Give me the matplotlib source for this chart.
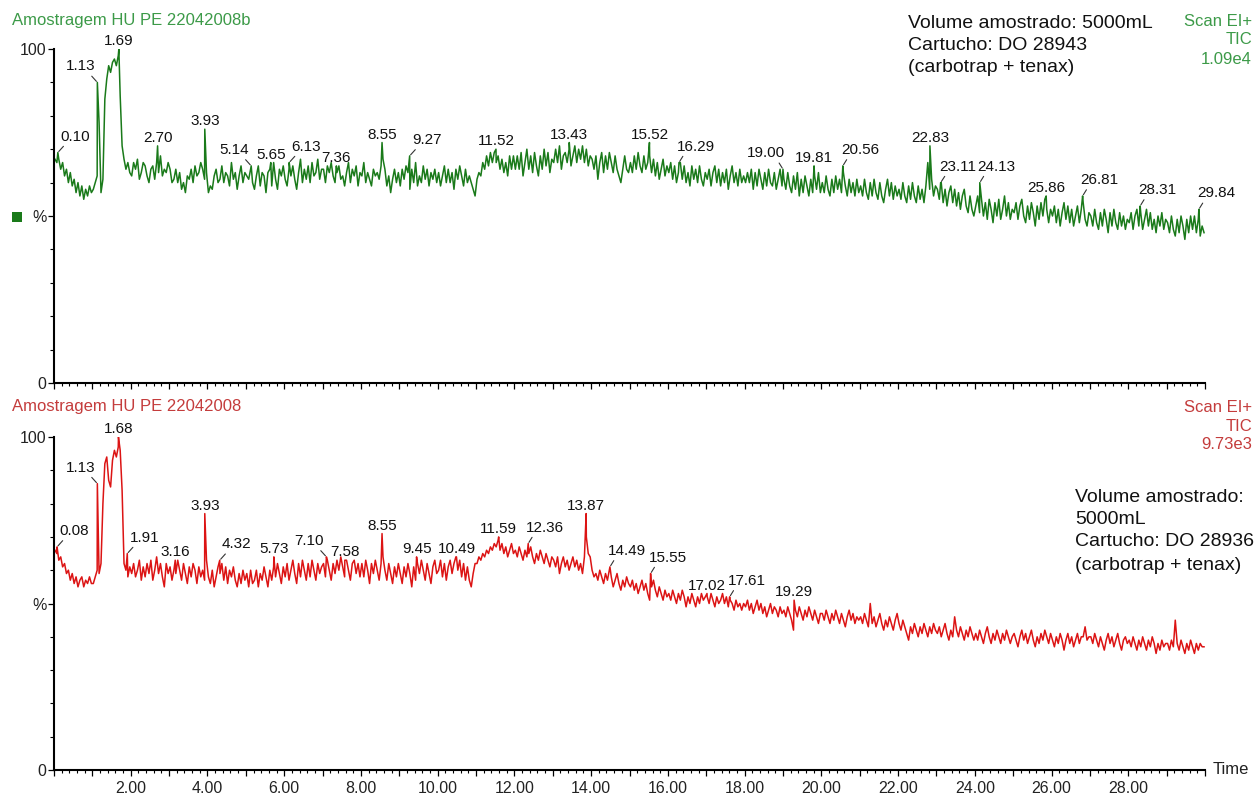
import numpy as np
import matplotlib
matplotlib.use("Agg")
import matplotlib.pyplot as plt
from matplotlib.ticker import FixedLocator, MultipleLocator, FuncFormatter
from matplotlib.patches import Rectangle

plt.rcParams['font.family'] = ['Liberation Sans', 'DejaVu Sans']

# scan grid, minutes (one scan every 0.05 min)
scan_time = np.round(0.025 + 0.05 * np.arange(600), 3)

# TIC, sample 22042008b (% of 1.09e4), one row per minute
top_signal = [
    67, 66, 67, 64, 66, 62, 64, 60, 63, 59, 61, 57, 60, 56, 59, 55, 58, 56, 59, 57,
    58, 60, 62, 78, 57, 61, 85, 91, 95, 93, 96, 97, 95, 98, 86, 71, 67, 64, 66, 63,
    62, 66, 64, 67, 61, 63, 66, 65, 62, 60, 64, 65, 61, 66, 63, 68, 62, 64, 63, 66,
    64, 60, 61, 64, 60, 63, 58, 60, 57, 62, 61, 64, 60, 65, 62, 63, 66, 64, 61, 63,
    57, 59, 58, 62, 64, 60, 61, 65, 60, 63, 62, 59, 66, 61, 63, 58, 62, 65, 60, 63,
    62, 61, 64, 60, 58, 62, 65, 59, 63, 62, 57, 63, 64, 59, 66, 61, 58, 64, 62, 65,
    61, 59, 64, 62, 65, 61, 58, 63, 67, 60, 64, 61, 65, 60, 66, 62, 63, 67, 61, 64,
    64, 60, 65, 63, 66, 62, 60, 63, 65, 61, 62, 59, 63, 66, 60, 64, 62, 65, 59, 63,
    62, 66, 60, 63, 61, 59, 64, 62, 63, 61, 65, 67, 64, 59, 62, 57, 61, 64, 60, 63,
    59, 64, 61, 65, 63, 58, 64, 60, 66, 59, 62, 60, 65, 61, 64, 59, 63, 61, 64, 60,
    63, 59, 62, 65, 60, 64, 60, 63, 58, 64, 61, 65, 62, 59, 64, 60, 62, 60, 58, 56,
    61, 63, 62, 66, 64, 68, 65, 69, 66, 69, 66, 68, 64, 67, 63, 66, 62, 68, 64, 68,
    64, 68, 64, 69, 62, 66, 70, 64, 68, 63, 69, 65, 62, 68, 64, 70, 65, 69, 63, 67,
    66, 70, 66, 71, 64, 68, 69, 66, 70, 65, 68, 71, 66, 70, 67, 71, 66, 70, 65, 68,
    67, 64, 68, 61, 66, 69, 63, 68, 64, 69, 66, 63, 68, 64, 62, 60, 64, 68, 64, 63,
    66, 63, 68, 64, 69, 65, 63, 68, 64, 66, 68, 63, 67, 62, 66, 61, 64, 67, 62, 65,
    63, 66, 61, 65, 60, 63, 66, 61, 65, 60, 63, 59, 65, 61, 64, 60, 65, 61, 59, 63,
    61, 64, 59, 63, 65, 60, 64, 59, 63, 60, 64, 58, 62, 65, 60, 63, 59, 64, 60, 62,
    60, 63, 60, 64, 58, 63, 59, 64, 61, 58, 63, 59, 64, 60, 59, 63, 58, 61, 64, 59,
    61, 58, 63, 59, 57, 62, 58, 63, 56, 61, 57, 62, 59, 56, 61, 57, 62, 58, 63, 57,
    60, 57, 62, 58, 56, 61, 57, 62, 58, 61, 57, 63, 59, 56, 61, 57, 60, 56, 61, 57,
    59, 56, 61, 57, 55, 60, 56, 61, 57, 55, 60, 56, 54, 58, 61, 56, 60, 55, 59, 56,
    58, 55, 60, 56, 54, 59, 55, 60, 56, 54, 59, 55, 58, 54, 59, 66, 58, 61, 56, 59,
    58, 55, 60, 54, 58, 53, 57, 59, 54, 58, 53, 57, 52, 56, 58, 53, 51, 56, 52, 50,
    53, 56, 51, 55, 50, 54, 49, 55, 52, 48, 54, 50, 55, 49, 52, 56, 50, 54, 49, 52,
    51, 54, 49, 53, 55, 50, 48, 53, 49, 54, 51, 47, 53, 49, 54, 50, 55, 52, 48, 52,
    50, 53, 48, 52, 47, 51, 54, 49, 53, 48, 52, 47, 50, 53, 48, 52, 54, 49, 47, 51,
    50, 47, 52, 48, 46, 51, 47, 52, 49, 45, 51, 47, 52, 48, 46, 51, 47, 50, 46, 49,
    48, 51, 46, 50, 52, 47, 51, 46, 49, 52, 47, 51, 46, 49, 45, 50, 47, 51, 46, 49,
    48, 45, 50, 46, 44, 49, 45, 50, 47, 43, 49, 45, 50, 46, 50, 45, 49, 44, 47, 45,
]

# TIC, sample 22042008 (% of 9.73e3)
bot_signal = [
    66, 65, 63, 64, 61, 62, 59, 60, 57, 59, 56, 58, 55, 57, 58, 55, 57, 56, 58, 56,
    56, 58, 60, 59, 62, 80, 92, 94, 87, 85, 93, 96, 94, 97, 96, 84, 62, 60, 58, 61,
    59, 62, 58, 60, 63, 57, 61, 58, 62, 59, 63, 57, 60, 64, 59, 62, 58, 55, 62, 59,
    61, 57, 60, 59, 63, 60, 57, 62, 59, 56, 61, 58, 62, 60, 56, 61, 58, 60, 57, 63,
    58, 56, 60, 55, 58, 61, 59, 62, 57, 61, 56, 60, 58, 61, 57, 55, 59, 56, 60, 57,
    59, 55, 60, 56, 57, 60, 55, 59, 57, 61, 58, 55, 60, 57, 61, 58, 62, 59, 56, 61,
    58, 62, 57, 60, 63, 59, 56, 62, 58, 63, 60, 57, 62, 58, 63, 60, 57, 62, 59, 61,
    62, 58, 63, 60, 57, 62, 59, 63, 60, 64, 61, 58, 63, 60, 57, 62, 63, 59, 62, 58,
    62, 58, 63, 60, 56, 62, 59, 63, 60, 57, 62, 64, 60, 57, 62, 59, 56, 61, 58, 62,
    59, 56, 61, 58, 62, 59, 55, 61, 57, 62, 59, 63, 60, 57, 62, 59, 56, 61, 63, 59,
    60, 63, 58, 62, 57, 61, 63, 59, 62, 64, 60, 63, 58, 62, 57, 61, 57, 55, 59, 62,
    62, 64, 63, 65, 64, 66, 65, 67, 66, 68, 67, 69, 66, 68, 65, 67, 64, 66, 68, 65,
    66, 64, 67, 65, 63, 66, 64, 65, 67, 64, 62, 65, 63, 66, 64, 62, 65, 63, 61, 64,
    63, 61, 64, 59, 62, 64, 61, 63, 60, 62, 64, 61, 63, 60, 62, 59, 64, 70, 65, 64,
    60, 58, 59, 57, 60, 58, 56, 59, 57, 60, 58, 55, 57, 59, 56, 54, 57, 55, 58, 56,
    55, 57, 54, 56, 53, 55, 57, 54, 56, 53, 51, 55, 57, 54, 52, 55, 53, 51, 54, 52,
    53, 51, 54, 52, 50, 53, 51, 54, 52, 49, 52, 50, 53, 51, 49, 52, 50, 53, 51, 52,
    52, 50, 53, 51, 49, 52, 50, 51, 53, 50, 52, 49, 51, 50, 48, 51, 49, 50, 48, 50,
    49, 51, 48, 50, 47, 49, 51, 48, 50, 47, 49, 46, 48, 50, 47, 49, 48, 46, 49, 47,
    48, 46, 49, 47, 45, 42, 48, 46, 49, 47, 45, 48, 46, 49, 47, 45, 48, 46, 44, 47,
    47, 45, 48, 46, 44, 47, 45, 48, 46, 44, 47, 45, 43, 46, 48, 45, 47, 44, 46, 45,
    46, 44, 47, 45, 43, 50, 44, 46, 43, 45, 47, 44, 42, 45, 43, 46, 44, 42, 45, 47,
    44, 42, 45, 43, 41, 39, 43, 41, 44, 42, 40, 43, 41, 44, 42, 40, 43, 41, 44, 42,
    41, 43, 40, 42, 44, 41, 39, 42, 40, 46, 42, 40, 43, 41, 39, 42, 40, 43, 41, 39,
    41, 39, 42, 40, 38, 41, 43, 40, 38, 41, 39, 42, 40, 38, 41, 39, 42, 40, 38, 40,
    41, 39, 37, 40, 42, 39, 41, 38, 40, 42, 39, 37, 40, 38, 41, 39, 42, 40, 38, 41,
    39, 37, 40, 38, 41, 39, 36, 39, 41, 38, 40, 37, 39, 41, 38, 40, 40, 43, 39, 40,
    40, 38, 41, 39, 37, 40, 38, 36, 39, 41, 38, 40, 37, 39, 41, 38, 36, 39, 40, 38,
    39, 37, 40, 38, 36, 39, 37, 40, 38, 36, 39, 37, 40, 38, 35, 38, 36, 39, 37, 38,
    38, 36, 39, 37, 45, 38, 36, 39, 37, 35, 38, 36, 39, 37, 35, 38, 36, 38, 37, 37,
]

# labelled peaks: retention time (min) and apex (%)
top_peak_rt = [0.10, 1.13, 1.69, 2.70, 3.93, 5.14, 5.65, 6.13, 7.36, 8.55, 9.27, 11.52, 13.43,
               15.52, 16.29, 19.00, 19.81, 20.56, 22.83, 23.11, 24.13, 25.86, 26.81, 28.31, 29.84]
top_peak_h = [69, 90, 100, 71, 76, 65, 66, 66, 65, 72, 68, 70, 72,
              72, 66, 64, 65, 65, 71, 60, 60, 56, 56, 53, 52]

bot_peak_rt = [0.08, 1.13, 1.68, 1.91, 3.16, 3.93, 4.32, 5.73, 7.10, 7.58, 8.55, 9.45, 10.49,
               11.59, 12.36, 13.87, 14.49, 15.55, 17.02, 17.61, 19.29]
bot_peak_h = [67, 86, 100, 65, 63, 77, 63, 64, 64, 63, 71, 64, 64,
              70, 68, 77, 61, 59, 53, 52, 51]

# labels drawn beside the peak with a leader line (+1 right, -1 left)
top_leaders = {0.10: 1, 1.13: -1, 5.14: -1, 6.13: 1, 9.27: 1, 16.29: 1, 19.00: -1, 20.56: 1,
               23.11: 1, 24.13: 1, 26.81: 1, 28.31: 1, 29.84: 1}
bot_leaders = {0.08: 1, 1.13: -1, 1.91: 1, 4.32: 1, 7.10: -1, 12.36: 1, 14.49: 1, 15.55: 1,
               17.61: 1}

GREEN = '#1a7a1a'
GREEN_TXT = '#3c9a48'
RED = '#dc1414'
RED_TXT = '#c43c3c'
W, H = 1258, 796


def fx(px):
    return px / W


def fy(py):
    return 1 - py / H


def style_axes(ax, show_xlabels):
    ax.set_xlim(0, 30)
    ax.set_ylim(0, 100)
    for s in ['top', 'right']:
        ax.spines[s].set_visible(False)
    for s in ['left', 'bottom']:
        ax.spines[s].set_linewidth(1.5)
        ax.spines[s].set_color('black')
    ax.xaxis.set_major_locator(MultipleLocator(1))
    ax.xaxis.set_minor_locator(MultipleLocator(0.2))
    if show_xlabels:
        ax.xaxis.set_major_formatter(FuncFormatter(
            lambda v, p: f"{v:.2f}" if 0 < v < 29.5 and round(v) % 2 == 0 else ""))
    else:
        ax.xaxis.set_major_formatter(FuncFormatter(lambda v, p: ""))
    ax.yaxis.set_major_locator(FixedLocator([0, 50, 100]))
    ax.yaxis.set_major_formatter(FuncFormatter(lambda v, p: {0: '0', 50: '%', 100: '100'}.get(int(round(v)), '')))
    ax.yaxis.set_minor_locator(MultipleLocator(10))
    ax.tick_params(axis='x', which='major', length=4, width=0.9, pad=4, labelsize=11.5, labelcolor='#222222')
    ax.tick_params(axis='x', which='minor', length=2.2, width=0.8)
    ax.tick_params(axis='y', which='major', length=4.5, width=0.9, pad=1, labelsize=11.5, labelcolor='#222222')
    ax.tick_params(axis='y', which='minor', length=3, width=0.8)
    ax.patch.set_alpha(0)


def draw_trace(ax, signal, peak_rt, peak_h, leaders, color):
    t = np.concatenate([scan_time, peak_rt])
    v = np.concatenate([np.asarray(signal, float), peak_h])
    order = np.argsort(t, kind='stable')
    ax.plot(t[order], v[order], color=color, lw=1.1)
    for rt, h in zip(peak_rt, peak_h):
        side = leaders.get(rt, 0)
        if side == 0:
            ax.annotate(f"{rt:.2f}", xy=(rt, h), xytext=(0, 4), textcoords='offset pixels',
                        ha='center', va='baseline', fontsize=11, color='#111111')
        else:
            ax.annotate(f"{rt:.2f}", xy=(rt, h), xytext=(17 * side, 12), textcoords='offset pixels',
                        ha='center', va='baseline', fontsize=11, color='#111111',
                        arrowprops=dict(arrowstyle='-', color='#333333', lw=0.8,
                                        shrinkA=0, shrinkB=1, relpos=(0.5 - 0.3 * side, 0)))


fig = plt.figure(figsize=(12.58, 7.96), dpi=100)

ax_top = fig.add_axes([fx(54), fy(383), fx(1205) - fx(54), (383 - 49) / H])
ax_bot = fig.add_axes([fx(54), fy(770), fx(1205) - fx(54), (770 - 437) / H])
style_axes(ax_top, False)
style_axes(ax_bot, True)

draw_trace(ax_top, top_signal, top_peak_rt, top_peak_h, top_leaders, GREEN)
draw_trace(ax_bot, bot_signal, bot_peak_rt, bot_peak_h, bot_leaders, RED)

# headers
fig.text(fx(12), fy(21), "Amostragem HU PE 22042008b", color=GREEN_TXT, fontsize=12, ha='left', va='center')
fig.text(fx(12), fy(407), "Amostragem HU PE 22042008", color=RED_TXT, fontsize=12, ha='left', va='center')
for line, y in zip(["Scan EI+", "TIC", "1.09e4"], [21, 40, 59]):
    fig.text(fx(1252), fy(y), line, color=GREEN_TXT, fontsize=12, ha='right', va='center')
for line, y in zip(["Scan EI+", "TIC", "9.73e3"], [407, 426, 445]):
    fig.text(fx(1252), fy(y), line, color=RED_TXT, fontsize=12, ha='right', va='center')

for line, y in zip(["Volume amostrado: 5000mL", "Cartucho: DO 28943", "(carbotrap + tenax)"], [23, 46, 68]):
    fig.text(fx(908), fy(y), line, color='#111111', fontsize=14, ha='left', va='center')
for line, y in zip(["Volume amostrado:", "5000mL", "Cartucho: DO 28936", "(carbotrap + tenax)"],
                   [498, 520, 542, 565]):
    fig.text(fx(1075), fy(y), line, color='#111111', fontsize=14, ha='left', va='center')

fig.text(fx(1213), fy(770), "Time", fontsize=12, color='#222222', ha='left', va='center')
fig.patches.append(Rectangle((fx(12), fy(222)), 10 / W, 10 / H, transform=fig.transFigure,
                             facecolor=GREEN, edgecolor='none'))

fig.savefig("out.png", dpi=100, facecolor='white')
